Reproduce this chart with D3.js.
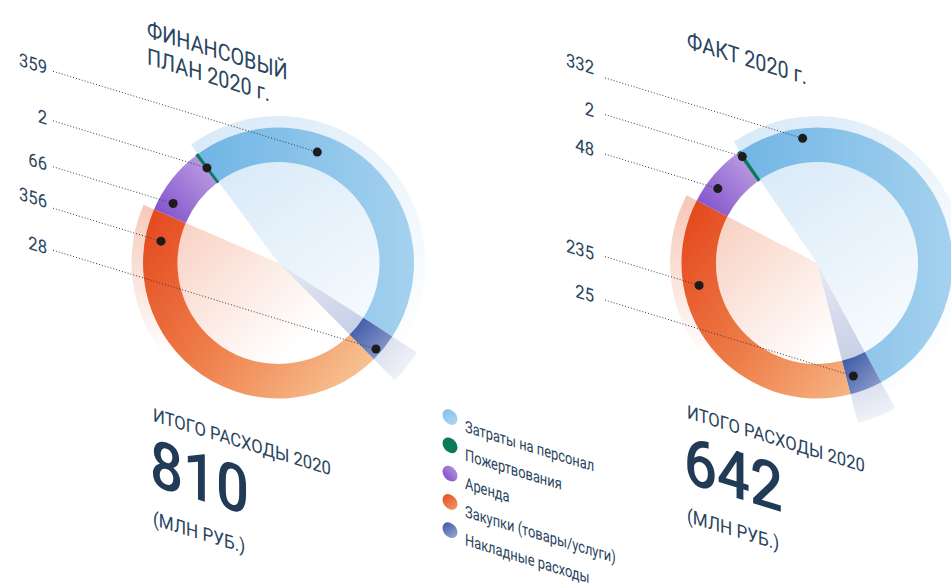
<!DOCTYPE html>
<html><head><meta charset="utf-8">
<script src="https://cdn.jsdelivr.net/npm/d3@7"></script>
<style>body{margin:0;background:#fff;} svg{display:block;font-family:Roboto, "Noto Sans", sans-serif;}</style>
</head><body><svg id="c" width="951" height="583"></svg>
<script>
// ---------- DATA ----------
const categories = ["Затраты на персонал","Пожертвования","Аренда","Закупки (товары/услуги)","Накладные расходы"];
const planValues = [359, 2, 66, 356, 28];
const factValues = [332, 2, 48, 235, 25];
const chartTitles = [["ФИНАНСОВЫЙ","ПЛАН 2020 г."],["ФАКТ 2020 г."]];
const totals = ["810", "642"];
const totalLabel = "ИТОГО РАСХОДЫ 2020";
const unitLabel = "(МЛН РУБ.)";

// ---------- LAYOUT ----------
const SKEW = 17;
const T = Math.tan(SKEW*Math.PI/180);
const deg = Math.PI/180;
const R_IN = 101, R_OUT = 135.5, R_BAND = 147, R_NAVY = 165;
const clockwiseOrder = [0,4,3,2,1];
const textColor = "#2a4561";
const charts = [
  {values: planValues, cx: 278.5, cy: 263, rot: -36.5, labelEndX: 47, lineStartX: 53,
   dots: [[0.35,117.5],[0.5,119],[0.21,121],[0.919,119.5],[0.69,130]], labelDy:[-1,0,0,-4,0],
   title: {x:147, y:37, lh:27}, total: {x:153, y:421}},
  {values: factValues, cx: 817, cy: 263, rot: -34.5, labelEndX: 594, lineStartX: 605,
   dots: [[0.15,125.5],[0.5,130],[0.35,124],[0.71,120],[0.75,118.7]], labelDy:[-6,0,0,1,0],
   title: {x:687, y:48, lh:27}, total: {x:687, y:418}}
];

const svg = d3.select("#c");
const defs = svg.append("defs");

function lin(id, x1,y1,x2,y2, stops, units){
  const g = defs.append("linearGradient").attr("id", id)
    .attr("gradientUnits", units || "userSpaceOnUse")
    .attr("x1",x1).attr("y1",y1).attr("x2",x2).attr("y2",y2);
  stops.forEach(s => g.append("stop").attr("offset", s[0]).attr("stop-color", s[1]).attr("stop-opacity", s[2]==null?1:s[2]));
}
lin("gBlue", -130,0,140,0, [[0,"#64aee2"],[1,"#a6d2ef"]]);
lin("gOrange", -130,-60,90,115, [[0,"#e4461c"],[0.5,"#ee7f4a"],[1,"#f8c595"]]);
lin("gPurple", 0,1,1,0, [[0,"#7d4acb"],[1,"#c2a8e3"]], "objectBoundingBox");
lin("gNavy", 0,0,1,1, [[0,"#3451a2"],[1,"#97a5d0"]], "objectBoundingBox");
lin("gBlueIn", -100,-130,70,120, [[0,"#d2e6f6"],[1,"#fbfdff"]]);
lin("gBlueBand", -100,-140,150,90, [[0,"#d6e8f7"],[1,"#ffffff"]]);
lin("gOrangeIn", -100,-50,20,80, [[0,"#f8cfc0"],[1,"#ffffff"]]);
lin("gOrangeBand", 0,-60,0,95, [[0,"#f6c9b8"],[1,"#ffffff"]]);
const rg = defs.append("radialGradient").attr("id","gNavyW").attr("gradientUnits","userSpaceOnUse")
  .attr("cx",0).attr("cy",0).attr("r",R_NAVY).attr("fx",0).attr("fy",0);
[[0,"#e6e9f4"],[0.6,"#c9d1e7"],[0.85,"#e0e4f1"],[1,"#eff1f8"]].forEach(s=>rg.append("stop").attr("offset",s[0]).attr("stop-color",s[1]));
// legend marker gradients
lin("mBlue",0,0,1,1,[[0,"#7fbde9"],[1,"#b3d9f2"]],"objectBoundingBox");
lin("mPurple",0,1,1,0,[[0,"#7d4acb"],[1,"#b497df"]],"objectBoundingBox");
lin("mOrange",0,0,1,1,[[0,"#e4461c"],[1,"#f59b6a"]],"objectBoundingBox");
lin("mNavy",0,0,1,1,[[0,"#3451a2"],[1,"#a3b0d6"]],"objectBoundingBox");

const sliceFill = ["url(#gBlue)", "#0b7a5b", "url(#gPurple)", "url(#gOrange)", "url(#gNavy)"];
const markerFill = ["url(#mBlue)", "#0b7a5b", "url(#mPurple)", "url(#mOrange)", "url(#mNavy)"];

function skewText(parent, x, y, txt, size, opts){
  opts = opts || {};
  return parent.append("text")
    .attr("transform", `translate(${x},${y}) skewY(${SKEW}) scale(${opts.sx||1},1)`)
    .attr("text-anchor", opts.anchor || "start")
    .attr("font-size", size)
    .attr("font-weight", opts.weight || 400)
    .attr("fill", opts.fill || textColor)
    .text(txt);
}

charts.forEach((c, ci) => {
  const pie = d3.pie().sort(null).value(i => c.values[i])
    .startAngle(c.rot*deg).endAngle(c.rot*deg + 2*Math.PI);
  const arcsArr = pie(clockwiseOrder);
  const byIdx = {};
  arcsArr.forEach(a => byIdx[a.data] = a);

  const g = svg.append("g").attr("transform", `translate(${c.cx},${c.cy})`);
  const arc = (ri, ro) => d3.arc().innerRadius(ri).outerRadius(ro);

  // faint highlight wedges
  g.append("path").attr("d", arc(0, R_NAVY)(byIdx[4])).attr("fill", "url(#gNavyW)");
  g.append("path").attr("d", arc(0, R_IN)(byIdx[0])).attr("fill", "url(#gBlueIn)");
  g.append("path").attr("d", arc(R_OUT-1, R_BAND)(byIdx[0])).attr("fill", "url(#gBlueBand)");
  g.append("path").attr("d", arc(0, R_IN)(byIdx[3])).attr("fill", "url(#gOrangeIn)");
  g.append("path").attr("d", arc(R_OUT-1, R_BAND)(byIdx[3])).attr("fill", "url(#gOrangeBand)");
  // ring
  const ring = arc(R_IN, R_OUT);
  [0,4,3,2,1].forEach(i => {
    g.append("path").attr("d", ring(byIdx[i])).attr("fill", sliceFill[i])
      .attr("stroke", i===1 ? "#0b7a5b" : "none").attr("stroke-width", i===1 ? 1.2 : 0);
  });

  // leader lines, dots, labels
  c.values.forEach((v, i) => {
    const a = byIdx[i];
    const t = c.dots[i][0], r = c.dots[i][1];
    const ang = a.startAngle + (a.endAngle - a.startAngle) * t;
    const dx = c.cx + r*Math.sin(ang), dy = c.cy - r*Math.cos(ang);
    const sy = dy - T*(dx - c.lineStartX);
    svg.append("line").attr("x1", c.lineStartX).attr("y1", sy).attr("x2", dx).attr("y2", dy)
      .attr("stroke", "#3a3a3a").attr("stroke-width", 1).attr("stroke-dasharray", "1,2");
    svg.append("circle").attr("cx", dx).attr("cy", dy).attr("r", 4.5).attr("fill", "#1c1c1c");
    const ly = sy - T*(c.lineStartX - c.labelEndX) + 6 + c.labelDy[i];
    skewText(svg, c.labelEndX, ly, d3.format("d")(v), 18.5, {anchor:"end", sx:0.9});
  });

  // title
  chartTitles[ci].forEach((line, k) => {
    skewText(svg, c.title.x, c.title.y + k*c.title.lh, line, 23, {sx:0.86});
  });

  // totals
  skewText(svg, c.total.x, c.total.y, totalLabel, 18.5, {sx:0.9});
  skewText(svg, c.total.x - 3, c.total.y + 64, totals[ci], 66, {weight:500, sx:0.88, fill:"#213b57"});
  skewText(svg, c.total.x, c.total.y + 104, unitLabel, 19, {sx:0.9});
});

// legend
const lg = svg.append("g");
categories.forEach((name, i) => {
  const row = lg.append("g").attr("transform", `translate(450,${417 + i*28.3}) skewY(${SKEW})`);
  row.append("circle").attr("r", 7.5).attr("fill", markerFill[i]);
  row.append("text").attr("y", 10.5).attr("font-size", 16.5)
    .attr("transform", "scale(0.78,1)").attr("x", 15/0.78)
    .attr("fill", textColor).text(name);
});
</script></body></html>
